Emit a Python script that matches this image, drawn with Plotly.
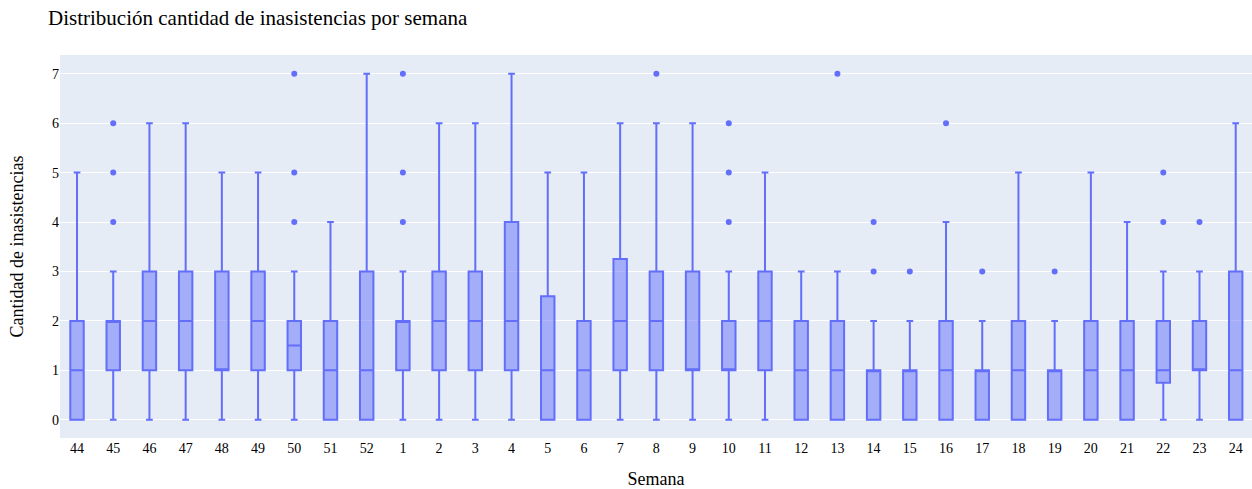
import plotly.graph_objects as go

weeks = ["44", "45", "46", "47", "48", "49", "50", "51", "52", "1", "2", "3", "4", "5", "6", "7",
         "8", "9", "10", "11", "12", "13", "14", "15", "16", "17", "18", "19", "20", "21", "22", "23", "24"]
lower_fence = [0] * 33
q1 = [0, 1, 1, 1, 1, 1, 1, 0, 0, 1, 1, 1, 1, 0, 0, 1, 1, 1, 1, 1, 0, 0, 0, 0, 0, 0, 0, 0, 0, 0, 0.75, 1, 0]
median = [1, 2, 2, 2, 1, 2, 1.5, 1, 1, 2, 2, 2, 2, 1, 1, 2, 2, 1, 1, 2, 1, 1, 1, 1, 1, 1, 1, 1, 1, 1, 1, 1, 1]
q3 = [2, 2, 3, 3, 3, 3, 2, 2, 3, 2, 3, 3, 4, 2.5, 2, 3.25, 3, 3, 2, 3, 2, 2, 1, 1, 2, 1, 2, 1, 2, 2, 2, 2, 3]
upper_fence = [5, 3, 6, 6, 5, 5, 3, 4, 7, 3, 6, 6, 7, 5, 5, 6, 6, 6, 3, 5, 3, 3, 2, 2, 4, 2, 5, 2, 5, 4, 3, 3, 6]

outlier_weeks = ["45", "45", "45", "50", "50", "50", "1", "1", "1", "8", "10", "10", "10", "13",
                 "14", "14", "15", "16", "17", "19", "22", "22", "23"]
outlier_values = [4, 5, 6, 4, 5, 7, 4, 5, 7, 7, 4, 5, 6, 7,
                  3, 4, 3, 6, 3, 3, 4, 5, 4]

color = "#636efa"

fig = go.Figure()
fig.add_trace(go.Box(
    x=weeks, q1=q1, median=median, q3=q3,
    lowerfence=lower_fence, upperfence=upper_fence,
    marker=dict(color=color), line=dict(color=color),
    showlegend=False,
))
fig.add_trace(go.Scatter(
    x=outlier_weeks, y=outlier_values, mode="markers",
    marker=dict(color=color, size=6), showlegend=False,
))

font_family = "Liberation Serif, Times New Roman, serif"
fig.update_layout(
    width=1252, height=489,
    template="plotly",
    font=dict(family=font_family, size=14, color="#000000"),
    title=dict(text="Distribución cantidad de inasistencias por semana",
               x=48 / 1252, xref="container", xanchor="left",
               y=1 - 18 / 489, yref="container", yanchor="middle",
               font=dict(size=21, family=font_family, color="#000000")),
    margin=dict(l=60, r=0, t=55, b=51),
    boxgap=0.47,
    xaxis=dict(title=dict(text="Semana", font=dict(size=18), standoff=21), type="category",
               categoryorder="array", categoryarray=weeks,
               range=[-0.47, 32.45], tickfont=dict(size=14)),
    yaxis=dict(title=dict(text="Cantidad de inasistencias", font=dict(size=18), standoff=23),
               range=[-0.37, 7.38], dtick=1, zeroline=False, tickfont=dict(size=14)),
)

fig.write_html("out.html")
